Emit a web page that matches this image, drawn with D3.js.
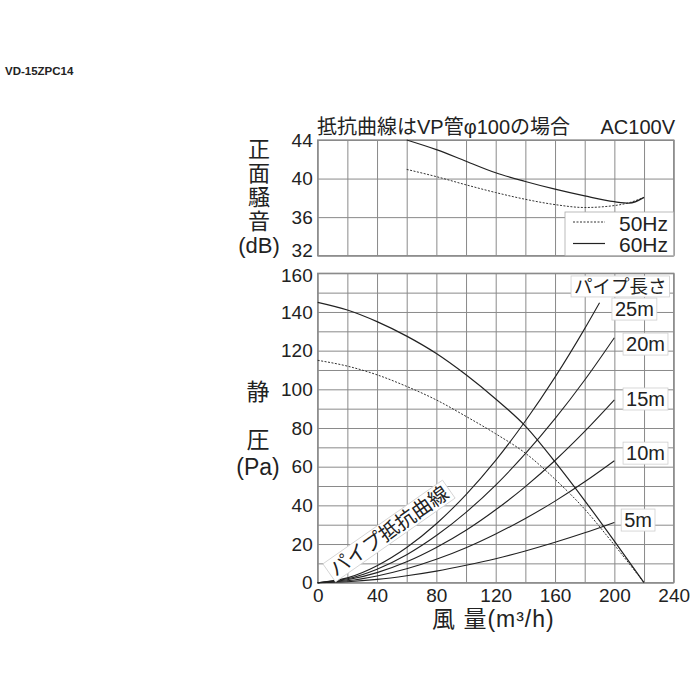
<!DOCTYPE html>
<html>
<head>
<meta charset="utf-8">
<script src="https://cdn.jsdelivr.net/npm/d3@7"></script>
<style>
body { margin: 0; background: #fff; }
text { font-family: "Liberation Sans", "Noto Sans CJK JP", sans-serif; fill: #222; }
</style>
</head>
<body>
<div id="chart"></div>
<script>
// values
var flow = [0, 20, 40, 60, 80, 100, 120, 140, 160, 180, 200, 220];
var pressure60 = [145, 141, 135, 127.5, 118.5, 107.5, 95, 81, 62.5, 42.5, 21.5, 0];
var pressure50 = [115, 112, 107.5, 101.5, 94.5, 86, 77, 67, 53.5, 38, 19.5, 0];

var noiseFlow = [60, 80, 100, 120, 140, 160, 180, 200, 210, 220];
var noise60 = [44.0, 43.0, 41.8, 40.6, 39.7, 38.9, 38.2, 37.6, 37.45, 38.05];
var noise50 = [40.95, 40.2, 39.35, 38.55, 37.85, 37.3, 37.0, 37.2, 37.5, 38.05];

var pipeFlow = [0, 20, 40, 60, 80, 100, 120, 140, 160, 180, 200];
var pipe25Flow = [0, 20, 40, 60, 80, 100, 120, 140, 160, 180, 190];
var pipe25 = [0, 2.5, 8.8, 18.2, 30.5, 45.6, 63.3, 83.6, 106.3, 131.4, 144.8];
var pipe20 = [0, 2.0, 7.0, 14.5, 24.4, 36.4, 50.5, 66.7, 84.8, 104.8, 126.7];
var pipe15 = [0, 1.5, 5.2, 10.8, 18.2, 27.1, 37.7, 49.7, 63.2, 78.2, 94.5];
var pipe10 = [0, 1.0, 3.5, 7.2, 12.1, 18.1, 25.2, 33.2, 42.2, 52.2, 63.1];
var pipe5 = [0, 0.5, 1.7, 3.6, 6.0, 9.0, 12.4, 16.4, 20.9, 25.8, 31.2];

var pipeLabels = ["25m", "20m", "15m", "10m", "5m"];
var flowTicks = [0, 40, 80, 120, 160, 200, 240];
var pressureTicks = [0, 20, 40, 60, 80, 100, 120, 140, 160];
var noiseTicks = [32, 36, 40, 44];

var w = 700;
var h = 700;
var left = 317.7, right = 673.7;
var gridColor = "#8a8a8a";

var svg = d3.select("#chart")
    .append("svg")
    .attr("width", w)
    .attr("height", h);

var xScale = d3.scaleLinear().domain([0, 240]).range([left, right]);
var yNoise = d3.scaleLinear().domain([32, 44]).range([255.7, 140]);
var yPress = d3.scaleLinear().domain([0, 160]).range([582.7, 273.3]);

// grid for one panel
function grid(yScale, yStep) {
    var y0 = yScale.range()[0], y1 = yScale.range()[1];
    var g = svg.append("g");
    g.append("g")
        .attr("transform", "translate(0," + y0 + ")")
        .call(d3.axisBottom(xScale).tickValues(d3.range(0, 241, 20)).tickSize(-(y0 - y1)).tickFormat(""));
    g.append("g")
        .attr("transform", "translate(" + left + ",0)")
        .call(d3.axisLeft(yScale).tickValues(d3.range(yScale.domain()[0], yScale.domain()[1] + 0.1, yStep)).tickSize(-(right - left)).tickFormat(""));
    g.selectAll(".domain").remove();
    g.selectAll("line").attr("stroke", gridColor).attr("stroke-width", 1);
    svg.append("rect")
        .attr("x", left).attr("y", y1)
        .attr("width", right - left).attr("height", y0 - y1)
        .attr("fill", "none").attr("stroke", gridColor).attr("stroke-width", 1.3);
}
grid(yNoise, 4);
grid(yPress, 10);

// tick labels
function labels(axis, transform) {
    var g = svg.append("g").attr("transform", transform).call(axis);
    g.select(".domain").remove();
    g.selectAll("text").style("font-size", "19px").attr("fill", "#222");
    return g;
}
var noiseAxis = labels(d3.axisLeft(yNoise).tickValues(noiseTicks).tickSize(0).tickPadding(5), "translate(" + left + ",0)");
noiseAxis.selectAll("text").attr("dy", function(d) { return d === 32 ? "0.05em" : "0.32em"; });
var pressAxis = labels(d3.axisLeft(yPress).tickValues(pressureTicks).tickSize(0).tickPadding(5), "translate(" + left + ",0)");
pressAxis.selectAll("text").attr("dy", function(d) { return d === 160 ? "0.45em" : "0.32em"; });
labels(d3.axisBottom(xScale).tickValues(flowTicks).tickSize(0).tickPadding(6), "translate(0," + yPress(0) + ")");

// noise curves
var noiseLine = d3.line()
    .x(function(d) { return xScale(d[0]); })
    .y(function(d) { return yNoise(d[1]); })
    .curve(d3.curveMonotoneX);

svg.append("path")
    .attr("d", noiseLine(d3.zip(noiseFlow, noise50)))
    .attr("fill", "none").attr("stroke", "#333").attr("stroke-width", 1)
    .attr("stroke-dasharray", "2,1.5");
svg.append("path")
    .attr("d", noiseLine(d3.zip(noiseFlow, noise60)))
    .attr("fill", "none").attr("stroke", "#222").attr("stroke-width", 1.2);

// pressure curves
var pressLine = d3.line()
    .x(function(d) { return xScale(d[0]); })
    .y(function(d) { return yPress(d[1]); })
    .curve(d3.curveMonotoneX);

var pipes = [
    d3.zip(pipe25Flow, pipe25),
    d3.zip(pipeFlow, pipe20),
    d3.zip(pipeFlow, pipe15),
    d3.zip(pipeFlow, pipe10),
    d3.zip(pipeFlow, pipe5)
];
svg.selectAll(".pipe")
    .data(pipes)
    .enter().append("path")
    .attr("class", "pipe")
    .attr("d", pressLine)
    .attr("fill", "none").attr("stroke", "#222").attr("stroke-width", 1.1);

svg.append("path")
    .attr("d", pressLine(d3.zip(flow, pressure50)))
    .attr("fill", "none").attr("stroke", "#333").attr("stroke-width", 1)
    .attr("stroke-dasharray", "2,1.5");
svg.append("path")
    .attr("d", pressLine(d3.zip(flow, pressure60)))
    .attr("fill", "none").attr("stroke", "#222").attr("stroke-width", 1.2);

// text with a white box behind it
function boxed(parent, x, y, str, size, anchor) {
    var g = parent.append("g");
    var t = g.append("text")
        .attr("x", x).attr("y", y)
        .attr("text-anchor", anchor || "middle")
        .attr("dominant-baseline", "central")
        .style("font-size", size + "px")
        .text(str);
    var b = t.node().getBBox();
    g.insert("rect", "text")
        .attr("x", b.x - 3).attr("y", b.y)
        .attr("width", b.width + 6).attr("height", b.height)
        .attr("fill", "#fff").attr("stroke", "#cfcfcf").attr("stroke-width", 0.8);
    return g;
}

boxed(svg, xScale(204), yPress(153.2), "パイプ長さ", 18.5);
var labelPos = [[213.5, 141.5], [221, 123.4], [221, 95], [221, 67], [216, 32.4]];
pipeLabels.forEach(function(s, i) {
    boxed(svg, xScale(labelPos[i][0]), yPress(labelPos[i][1]), s, 20);
});

var rot = svg.append("g").attr("transform", "translate(389,531) rotate(-35)");
boxed(rot, 0, 0, "パイプ抵抗曲線", 20);

// legend of noise panel
var legend = svg.append("g");
legend.append("rect")
    .attr("x", 565).attr("y", 212)
    .attr("width", right - 565).attr("height", yNoise(32) - 212)
    .attr("fill", "#fff").attr("stroke", "#aaa").attr("stroke-width", 0.8);
legend.append("line")
    .attr("x1", 573).attr("x2", 605).attr("y1", 222).attr("y2", 222)
    .attr("stroke", "#333").attr("stroke-dasharray", "2,1.5");
legend.append("line")
    .attr("x1", 573).attr("x2", 605).attr("y1", 243.5).attr("y2", 243.5)
    .attr("stroke", "#222").attr("stroke-width", 1.2);
legend.append("text").attr("x", 668).attr("y", 223).attr("text-anchor", "end")
    .attr("dominant-baseline", "central").style("font-size", "21px").text("50Hz");
legend.append("text").attr("x", 668).attr("y", 244.5).attr("text-anchor", "end")
    .attr("dominant-baseline", "central").style("font-size", "21px").text("60Hz");

// titles
svg.append("text").attr("x", 5).attr("y", 75)
    .style("font-size", "11.5px").attr("font-weight", "bold").text("VD-15ZPC14");
svg.append("text").attr("x", 317).attr("y", 134)
    .style("font-size", "20px").text("抵抗曲線はVP管φ100の場合");
svg.append("text").attr("x", 675).attr("y", 134).attr("text-anchor", "end")
    .style("font-size", "20px").text("AC100V");

var noiseTitle = ["正", "面", "騒", "音", "(dB)"];
var noiseTitleY = [149, 173, 197, 221, 245];
noiseTitle.forEach(function(s, i) {
    svg.append("text").attr("x", 259).attr("y", noiseTitleY[i])
        .attr("text-anchor", "middle").attr("dominant-baseline", "central")
        .style("font-size", "22px").text(s);
});
var pressTitle = ["静", "圧", "(Pa)"];
var pressTitleY = [392, 440, 467];
pressTitle.forEach(function(s, i) {
    svg.append("text").attr("x", 258).attr("y", pressTitleY[i])
        .attr("text-anchor", "middle").attr("dominant-baseline", "central")
        .style("font-size", "23px").text(s);
});

svg.append("text").attr("x", 432).attr("y", 619)
    .attr("dominant-baseline", "central")
    .style("font-size", "23px").style("letter-spacing", "1px")
    .text("風 量(m³/h)");
</script>
</body>
</html>
